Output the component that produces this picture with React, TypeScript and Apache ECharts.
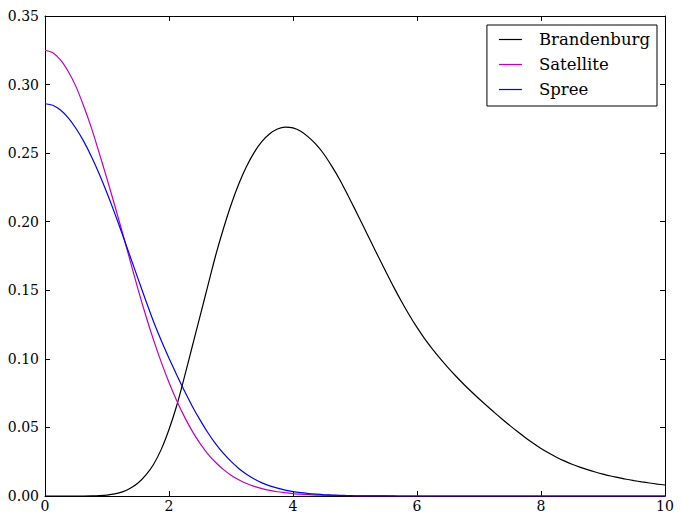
import React, { useEffect, useRef } from "react";
import * as echarts from "echarts";

const xs = [
  0, 0.125, 0.25, 0.375, 0.5, 0.625, 0.75, 0.875,
  1, 1.125, 1.25, 1.375, 1.5, 1.625, 1.75, 1.875,
  2, 2.125, 2.25, 2.375, 2.5, 2.625, 2.75, 2.875,
  3, 3.125, 3.25, 3.375, 3.5, 3.625, 3.75, 3.875,
  4, 4.125, 4.25, 4.375, 4.5, 4.625, 4.75, 4.875,
  5, 5.125, 5.25, 5.375, 5.5, 5.625, 5.75, 5.875,
  6, 6.125, 6.25, 6.375, 6.5, 6.625, 6.75, 6.875,
  7, 7.125, 7.25, 7.375, 7.5, 7.625, 7.75, 7.875,
  8, 8.125, 8.25, 8.375, 8.5, 8.625, 8.75, 8.875,
  9, 9.125, 9.25, 9.375, 9.5, 9.625, 9.75, 9.875,
  10,
];

const brandenburg = [
  0, 0, 0, 0, 0, 0, 0.0001, 0.0003,
  0.0007, 0.0015, 0.003, 0.0056, 0.0095, 0.0152, 0.023, 0.034,
  0.0485, 0.066, 0.087, 0.109, 0.131, 0.153, 0.175, 0.1945,
  0.2122, 0.2275, 0.2403, 0.2506, 0.2585, 0.2641, 0.2676, 0.269,
  0.2684, 0.266, 0.2617, 0.2562, 0.2492, 0.2405, 0.231, 0.2202,
  0.209, 0.1976, 0.1861, 0.1746, 0.1633, 0.1523, 0.1418, 0.132,
  0.1229, 0.1146, 0.1071, 0.1001, 0.0936, 0.0875, 0.0817, 0.0762,
  0.0709, 0.0658, 0.0608, 0.056, 0.0513, 0.0468, 0.0425, 0.0384,
  0.0346, 0.0313, 0.0283, 0.0256, 0.0232, 0.0211, 0.0192, 0.0175,
  0.016, 0.0146, 0.0134, 0.0122, 0.0112, 0.0103, 0.0095, 0.0087,
  0.008,
];

const satellite = [
  0.325, 0.3232, 0.318, 0.3095, 0.2985, 0.2842, 0.2682, 0.25,
  0.2312, 0.2118, 0.1918, 0.1713, 0.1508, 0.1316, 0.1138, 0.0976,
  0.0828, 0.0695, 0.0577, 0.0473, 0.0384, 0.0308, 0.0246, 0.0194,
  0.0152, 0.0118, 0.0091, 0.007, 0.0054, 0.0041, 0.0031, 0.0024,
  0.0018, 0.0013, 0.001, 0.0007, 0.0005, 0.0004, 0.0003, 0.0002,
  0.00015, 0.0001, 0.00007, 0.00005, 0.00003, 0, 0, 0,
  0, 0, 0, 0, 0, 0, 0, 0,
  0, 0, 0, 0, 0, 0, 0, 0,
  0, 0, 0, 0, 0, 0, 0, 0,
  0, 0, 0, 0, 0, 0, 0, 0,
  0,
];

const spree = [
  0.286, 0.2849, 0.2814, 0.2757, 0.268, 0.2586, 0.2474, 0.2348,
  0.2209, 0.2061, 0.1905, 0.1745, 0.1585, 0.1426, 0.1272, 0.1134,
  0.1005, 0.0882, 0.0765, 0.0655, 0.0555, 0.0463, 0.0382, 0.0312,
  0.0252, 0.0201, 0.0159, 0.0124, 0.0096, 0.0074, 0.0057, 0.0043,
  0.0032, 0.0024, 0.0018, 0.0013, 0.0009, 0.0007, 0.0005, 0.0003,
  0.0002, 0.00015, 0.0001, 0.00007, 0.00005, 0.00003, 0, 0,
  0, 0, 0, 0, 0, 0, 0, 0,
  0, 0, 0, 0, 0, 0, 0, 0,
  0, 0, 0, 0, 0, 0, 0, 0,
  0, 0, 0, 0, 0, 0, 0, 0,
  0,
];

const seriesNames = ["Brandenburg", "Satellite", "Spree"];
const seriesColors = ["#000000", "#bf00bf", "#0000ff"];
const seriesValues = [brandenburg, satellite, spree];

const FONT = "DejaVu Serif";

export default function App() {
  const ref = useRef<HTMLDivElement>(null);

  useEffect(() => {
    if (!ref.current) return;
    const chart = echarts.init(ref.current, undefined, { renderer: "svg" });

    const axisLine = { show: true, onZero: false, lineStyle: { color: "#000", width: 1 } };
    const axisTick = { show: true, inside: true, length: 5, lineStyle: { color: "#000", width: 1 } };

    const option = {
      animation: false,
      backgroundColor: "#ffffff",
      grid: { left: 45, right: 17, top: 16, bottom: 30, containLabel: false },
      xAxis: [
        {
          type: "value",
          min: 0,
          max: 10,
          interval: 2,
          position: "bottom",
          axisLine,
          axisTick,
          splitLine: { show: false },
          axisLabel: { color: "#000", fontFamily: FONT, fontSize: 14, margin: 3 },
        },
        {
          type: "value",
          min: 0,
          max: 10,
          interval: 2,
          position: "top",
          axisLine,
          axisTick,
          splitLine: { show: false },
          axisLabel: { show: false },
        },
      ],
      yAxis: [
        {
          type: "value",
          min: 0,
          max: 0.35,
          interval: 0.05,
          position: "left",
          axisLine,
          axisTick,
          splitLine: { show: false },
          axisLabel: {
            color: "#000",
            fontFamily: FONT,
            fontSize: 14,
            margin: 6,
            formatter: (v: number) => v.toFixed(2),
          },
        },
        {
          type: "value",
          min: 0,
          max: 0.35,
          interval: 0.05,
          position: "right",
          axisLine,
          axisTick,
          splitLine: { show: false },
          axisLabel: { show: false },
        },
      ],
      legend: {
        orient: "vertical",
        right: 25,
        top: 25,
        backgroundColor: "#ffffff",
        borderColor: "#000",
        borderWidth: 1,
        borderRadius: 0,
        padding: [6, 7, 8, 12],
        itemGap: 8,
        itemWidth: 23,
        itemHeight: 1.2,
        icon: "rect",
        textStyle: { fontFamily: FONT, fontSize: 16.5, color: "#000", padding: [0, 0, 0, 12] },
        data: seriesNames,
      },
      series: seriesNames.map((name, i) => ({
        name,
        type: "line",
        xAxisIndex: 0,
        yAxisIndex: 0,
        data: xs.map((x, j) => [x, seriesValues[i][j]]),
        symbol: "none",
        showSymbol: false,
        smooth: 0.3,
        lineStyle: { color: seriesColors[i], width: 1.2 },
        itemStyle: { color: seriesColors[i] },
      })),
    };

    chart.setOption(option as any);
    return () => chart.dispose();
  }, []);

  return (
    <div
      ref={ref}
      style={{ position: "fixed", left: 0, top: 0, width: 682, height: 526, background: "#fff" }}
    />
  );
}
